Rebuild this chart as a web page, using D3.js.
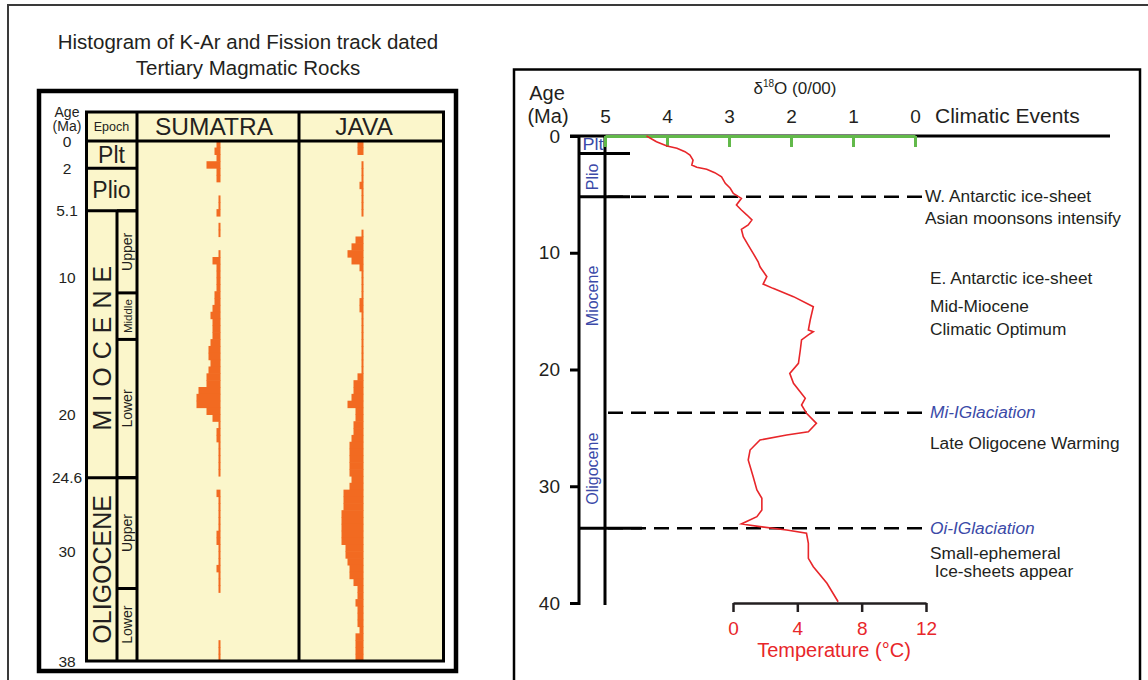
<!DOCTYPE html>
<html>
<head>
<meta charset="utf-8">
<script src="https://cdn.jsdelivr.net/npm/d3@7"></script>
<style>
  body { margin: 0; background: #fff; }
  svg { display: block; font-family: "Liberation Sans", Arial, sans-serif; }
</style>
</head>
<body>
<div id="chart"></div>
<script>
// ---- left panel data (histogram of dated rocks, 0.5 Ma bins from 0 to 38 Ma)
const binSize = 0.5;
const sumatraCounts = [2,3,2,7,2,2,0,0,1,1, 2,0,1,1,0,0,1,4,2,2, 2,2,3,3,4,5,4,4,4,5,
  6,6,5,6,7,7,11,12,12,7, 4,1,2,2,1,1,1,1,1,0, 0,2,1,1,1,1,1,2,2,1,
  1,1,2,1,1,1,0,0,0,0, 0,0,0,1,1,1];
const javaCounts = [3,3,0,1,1,1,2,1,1,1, 1,0,0,1,4,6,8,6,2,1, 1,1,1,2,2,1,1,1,1,1,
  1,1,1,1,3,5,5,6,8,4, 4,5,5,6,7,7,7,7,7,6, 7,10,10,10,11,11,11,11,11,9,
  9,8,7,7,5,3,3,4,3,3, 3,2,4,4,4,4];
const ageTicksL = [0, 2, 5.1, 10, 20, 24.6, 30, 38];
const epochNamesL = ['Plt', 'Plio', 'MIOCENE', 'OLIGOCENE'];
const epochBoundsL = [0, 2, 5.1, 24.6, 38];
const subNamesL = ['Upper', 'Middle', 'Lower', 'Upper', 'Lower'];
const subBoundsL = [[5.1, 11.1], [11.1, 14.5], [14.5, 24.6], [24.6, 32.7], [32.7, 38]];
const islands = ['SUMATRA', 'JAVA'];

// ---- right panel data (oxygen isotope curve and climatic events)
const curveAge = [0, 0.49, 0.86, 1.05, 1.34, 1.63, 2.06, 2.48, 2.68, 2.85, 3.14, 3.49, 4.05, 4.48, 4.91,
  5.34, 5.91, 6.34, 6.77, 7.19, 7.62, 7.99, 8.63, 9.34, 10.05, 10.77, 11.2, 12.05, 12.68, 13.05,
  13.76, 14.62, 15.76, 16.62, 16.76, 17.04, 17.47, 18.33, 19.47, 20.33, 21.18, 22.47, 23.04, 23.75,
  24.61, 25.33, 25.61, 26.04, 26.9, 27.75, 29.18, 30.32, 31.03, 32.03, 32.61, 33.23, 33.46, 33.75,
  34.03, 34.89, 36.17, 36.89, 38.31, 39.89];
const curveD18O = [4.33, 4.17, 4.0, 3.84, 3.71, 3.63, 3.58, 3.6, 3.52, 3.36, 3.23, 3.12, 3.06, 2.98, 2.93,
  2.8, 2.88, 2.8, 2.71, 2.63, 2.69, 2.8, 2.77, 2.69, 2.61, 2.53, 2.5, 2.39, 2.45, 2.29,
  1.96, 1.64, 1.69, 1.72, 1.64, 1.72, 1.83, 1.85, 1.88, 2.02, 1.96, 1.77, 1.83, 1.75,
  1.59, 1.72, 2.07, 2.5, 2.66, 2.69, 2.61, 2.55, 2.47, 2.47, 2.55, 2.8, 2.5, 2.07,
  1.75, 1.72, 1.72, 1.64, 1.42, 1.24];
const ageTicksR = [0, 10, 20, 30, 40];
const d18oTicks = [5, 4, 3, 2, 1, 0];
const tempTicks = [0, 4, 8, 12];
const epochNamesR = ['Plt', 'Plio', 'Miocene', 'Oligocene'];
const epochMidAgesR = [0.7, 3.5, 13.7, 28.5];
const epochBoundsR = [1.5, 5.2, 33.6];
const eventLineAges = [5.2, 23.7, 33.6];
const eventTexts = ['W. Antarctic ice-sheet', 'Asian moonsons intensify', 'E. Antarctic ice-sheet',
  'Mid-Miocene', 'Climatic Optimum', 'Mi-IGlaciation', 'Late Oligocene Warming',
  'Oi-IGlaciation', 'Small-ephemeral', ' Ice-sheets appear'];
const eventTextAges = [5.14, 7.02, 12.16, 14.56, 16.53, 23.64, 26.3, 33.58, 35.72, 37.26];
const eventItalic = [false, false, false, false, false, true, false, true, false, false];

const W = 1148, H = 680;
const cream = '#fbf6cb';
const orange = '#f26a21';
const blue = '#3b4aa8';
const red = '#e8262a';
const green = '#62b94a';
const ink = '#231f20';

const svg = d3.select('#chart').append('svg')
  .attr('width', W).attr('height', H)
  .attr('viewBox', [0, 0, W, H]);

svg.append('rect').attr('width', W).attr('height', H).attr('fill', '#fff');

// page frame
svg.append('path')
  .attr('d', `M8,${H + 5}V5H${W + 5}`)
  .attr('fill', 'none').attr('stroke', '#3a3a3a').attr('stroke-width', 2);

// ================= LEFT PANEL =================
const L = svg.append('g');

L.append('text').attr('x', 248).attr('y', 49).attr('text-anchor', 'middle')
  .attr('font-size', 20.5).attr('fill', ink)
  .text('Histogram of K-Ar and Fission track dated');
L.append('text').attr('x', 248).attr('y', 75).attr('text-anchor', 'middle')
  .attr('font-size', 20.5).attr('fill', ink)
  .text('Tertiary Magmatic Rocks');

L.append('rect').attr('x', 39).attr('y', 91).attr('width', 417).attr('height', 580)
  .attr('fill', '#fff').attr('stroke', '#000').attr('stroke-width', 4.5);

const yL = d3.scaleLinear().domain([0, 38]).range([141, 661]);
const colEpoch = 86.5, colSub = 117, colSum = 137, colJava = 299, colEnd = 443.5, topL = 112;

L.append('rect').attr('x', colEpoch).attr('y', topL)
  .attr('width', colEnd - colEpoch).attr('height', yL(38) - topL)
  .attr('fill', cream);

// histograms
const countW = d3.scaleLinear().domain([0, 1]).range([0, 2]);
const binH = yL(binSize) - yL(0);
function drawHist(counts, base) {
  L.append('g').selectAll('rect')
    .data(counts.map((c, i) => ({ c, age: i * binSize })).filter(d => d.c > 0))
    .join('rect')
    .attr('x', d => base - countW(d.c))
    .attr('y', d => yL(d.age) - 0.3)
    .attr('width', d => countW(d.c))
    .attr('height', binH + 0.6)
    .attr('fill', orange);
}
drawHist(sumatraCounts, 220.5);
drawHist(javaCounts, 363.5);

// grid lines
const gl = L.append('g').attr('stroke', '#000').attr('stroke-width', 3).attr('fill', 'none');
gl.append('rect').attr('x', colEpoch).attr('y', topL)
  .attr('width', colEnd - colEpoch).attr('height', yL(38) - topL);
gl.append('line').attr('x1', colEpoch).attr('x2', colEnd).attr('y1', yL(0)).attr('y2', yL(0));
[colSum, colJava].forEach(x => gl.append('line').attr('x1', x).attr('x2', x).attr('y1', topL).attr('y2', yL(38)));
epochBoundsL.slice(1, -1).forEach(a => gl.append('line')
  .attr('x1', colEpoch).attr('x2', colSum).attr('y1', yL(a)).attr('y2', yL(a)));
gl.append('line').attr('x1', colSub).attr('x2', colSub).attr('y1', yL(5.1)).attr('y2', yL(38));
subBoundsL.forEach(b => gl.append('line')
  .attr('x1', colSub).attr('x2', colSum).attr('y1', yL(b[0])).attr('y2', yL(b[0])));

// header texts
L.append('text').attr('x', 111.5).attr('y', 131).attr('text-anchor', 'middle')
  .attr('font-size', 12.5).attr('fill', ink).text('Epoch');
islands.forEach((name, i) => {
  const cx = i === 0 ? 214 : 364;
  L.append('text').attr('x', cx).attr('y', 135).attr('text-anchor', 'middle')
    .attr('font-size', 24.5).attr('fill', ink).text(name);
});

// age labels
L.append('text').attr('x', 67).attr('y', 117).attr('text-anchor', 'middle')
  .attr('font-size', 14).attr('fill', ink).text('Age');
L.append('text').attr('x', 67).attr('y', 131).attr('text-anchor', 'middle')
  .attr('font-size', 14).attr('fill', ink).text('(Ma)');
L.append('g').selectAll('text').data(ageTicksL).join('text')
  .attr('x', 67).attr('y', d => yL(d)).attr('dy', '0.36em')
  .attr('text-anchor', 'middle').attr('font-size', 15.5).attr('fill', ink)
  .text(d => d);

// epoch names
epochNamesL.forEach((name, i) => {
  const mid = yL((epochBoundsL[i] + epochBoundsL[i + 1]) / 2);
  if (i < 2) {
    L.append('text').attr('x', 111.5).attr('y', mid).attr('dy', '0.36em')
      .attr('text-anchor', 'middle').attr('font-size', 23).attr('fill', ink).text(name);
  } else {
    L.append('text').attr('transform', `translate(${(colEpoch + colSub) / 2 + 9},${mid}) rotate(-90)`)
      .attr('text-anchor', 'middle').attr('font-size', 25)
      .attr('letter-spacing', i === 2 ? 8 : 0)
      .attr('fill', ink).text(name);
  }
});
subNamesL.forEach((name, i) => {
  const mid = yL((subBoundsL[i][0] + subBoundsL[i][1]) / 2);
  L.append('text').attr('transform', `translate(${(colSub + colSum) / 2 + 5},${mid}) rotate(-90)`)
    .attr('text-anchor', 'middle').attr('font-size', name === 'Middle' ? 11.5 : 14)
    .attr('fill', ink).text(name);
});

// ================= RIGHT PANEL =================
const R = svg.append('g');
R.append('rect').attr('x', 514).attr('y', 69.5).attr('width', 626).attr('height', 640)
  .attr('fill', '#fff').attr('stroke', '#000').attr('stroke-width', 2.5);

const yR = d3.scaleLinear().domain([0, 40]).range([136, 603]);
const xO = d3.scaleLinear().domain([5, 0]).range([605, 915]);
const xT = d3.scaleLinear().domain([0, 12]).range([733, 926]);

// titles
R.append('text').attr('x', 547).attr('y', 100).attr('text-anchor', 'middle')
  .attr('font-size', 20).attr('fill', ink).text('Age');
R.append('text').attr('x', 548).attr('y', 123).attr('text-anchor', 'middle')
  .attr('font-size', 20).attr('fill', ink).text('(Ma)');
const dTitle = R.append('text').attr('x', 795).attr('y', 94).attr('text-anchor', 'middle')
  .attr('font-size', 17).attr('fill', ink);
dTitle.append('tspan').text('δ');
dTitle.append('tspan').attr('font-size', 10).attr('dy', -7).text('18');
dTitle.append('tspan').attr('dy', 7).text('O (0/00)');
R.append('text').attr('x', 935).attr('y', 123).attr('font-size', 21).attr('fill', ink)
  .text('Climatic Events');

// top black baseline
R.append('line').attr('x1', 570).attr('x2', 1110).attr('y1', yR(0)).attr('y2', yR(0))
  .attr('stroke', '#000').attr('stroke-width', 3);

// event dashed lines
R.append('g').selectAll('line').data(eventLineAges).join('line')
  .attr('x1', 608).attr('x2', 922).attr('y1', d => yR(d)).attr('y2', d => yR(d))
  .attr('stroke', '#000').attr('stroke-width', 2.5).attr('stroke-dasharray', '15,8');

// epoch column
const colA = 579, colB = 605;
R.append('line').attr('x1', colB).attr('x2', colB).attr('y1', yR(0)).attr('y2', yR(40) + 2)
  .attr('stroke', '#000').attr('stroke-width', 3);
R.append('g').selectAll('line').data(epochBoundsR).join('line')
  .attr('x1', colA).attr('x2', (d, i) => i === 2 ? 642 : 630)
  .attr('y1', d => yR(d)).attr('y2', d => yR(d))
  .attr('stroke', '#000').attr('stroke-width', 3);

epochNamesR.forEach((name, i) => {
  const t = R.append('text').attr('fill', blue).attr('font-size', 16).attr('text-anchor', 'middle');
  if (i === 0) {
    t.attr('x', (colA + colB) / 2 + 1).attr('y', yR(epochMidAgesR[i])).attr('dy', '0.36em')
      .attr('textLength', 21).attr('lengthAdjust', 'spacingAndGlyphs').text(name);
  } else {
    t.attr('transform', `translate(${(colA + colB) / 2 + 6},${yR(epochMidAgesR[i])}) rotate(-90)`).text(name);
  }
});

// left age axis
const ageAxis = R.append('g').attr('transform', `translate(${colA},0)`)
  .call(d3.axisLeft(yR).tickValues(ageTicksR).tickSize(9).tickSizeOuter(0).tickPadding(10));
ageAxis.selectAll('path, line').attr('stroke', '#000').attr('stroke-width', 3);
ageAxis.select('.domain').attr('d', `M0,${yR(0)}V${yR(40) + 2}`);
ageAxis.selectAll('text').attr('font-size', 19).attr('fill', ink)
  .attr('font-family', '"Liberation Sans", Arial, sans-serif');

// top d18O axis
const oAxis = R.append('g').attr('transform', `translate(0,${yR(0)})`)
  .call(d3.axisTop(xO).tickValues(d18oTicks).tickSize(-11).tickSizeOuter(0).tickPadding(13)
    .tickFormat(d3.format('d')));
oAxis.selectAll('path, line').attr('stroke', green).attr('stroke-width', 3);
oAxis.selectAll('text').attr('font-size', 19).attr('fill', ink)
  .attr('font-family', '"Liberation Sans", Arial, sans-serif');

// bottom temperature axis
const tAxis = R.append('g').attr('transform', `translate(0,603)`)
  .call(d3.axisBottom(xT).tickValues(tempTicks).tickSize(9).tickSizeOuter(0).tickPadding(10));
tAxis.selectAll('path, line').attr('stroke', ink).attr('stroke-width', 2.5);
tAxis.selectAll('text').attr('font-size', 19).attr('fill', red)
  .attr('font-family', '"Liberation Sans", Arial, sans-serif');
R.append('text').attr('x', 834).attr('y', 657).attr('text-anchor', 'middle')
  .attr('font-size', 20).attr('fill', red).text('Temperature (°C)');

// isotope curve
const curve = curveAge.map((a, i) => ({ age: a, d: curveD18O[i] }));
R.append('path').datum(curve)
  .attr('d', d3.line().x(d => xO(d.d)).y(d => yR(d.age)))
  .attr('fill', 'none').attr('stroke', red).attr('stroke-width', 1.6);

// climatic event labels
R.append('g').selectAll('text').data(eventTexts).join('text')
  .attr('x', (d, i) => i < 2 ? 925 : 930)
  .attr('y', (d, i) => yR(eventTextAges[i])).attr('dy', '0.36em')
  .attr('font-size', 17.3).attr('xml:space', 'preserve')
  .attr('font-style', (d, i) => eventItalic[i] ? 'italic' : 'normal')
  .attr('fill', (d, i) => eventItalic[i] ? blue : ink)
  .text(d => d);
</script>
</body>
</html>
